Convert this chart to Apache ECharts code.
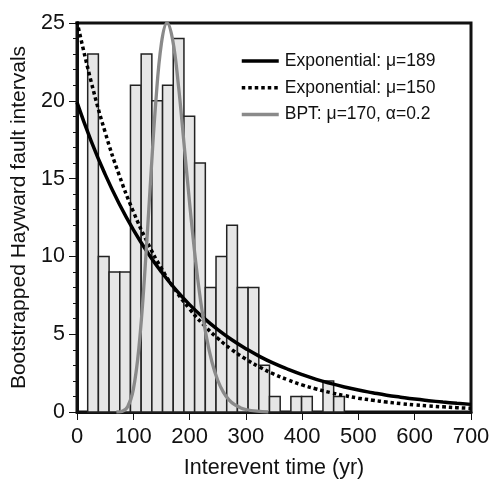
<!DOCTYPE html>
<html>
<head>
<meta charset="utf-8">
<title>Bootstrapped Hayward fault intervals</title>
<script src="https://cdn.jsdelivr.net/npm/echarts@6/dist/echarts.min.js"></script>
<style>
  html, body { margin: 0; padding: 0; background: #fff; }
  #chart { width: 493px; height: 484px; }
</style>
</head>
<body>
<div id="chart"></div>
<script>
// histogram: bins of 19 yr, left edges
var binWidth = 19;
var binStarts = [19, 38, 57, 76, 95, 114, 133, 152, 171, 190, 209, 228,
                 247, 266, 285, 304, 323, 342, 361, 380, 399, 418, 437, 456];
var binCounts = [23, 10, 9, 9, 21, 23, 20, 21, 24, 19, 16, 8,
                 10, 12, 8, 8, 3, 1, 0, 1, 1, 0, 2, 1];

// curves
var expX = [0, 25, 50, 75, 100, 125, 150, 175, 200, 225, 250, 275, 300, 325, 350,
            375, 400, 425, 450, 475, 500, 525, 550, 575, 600, 625, 650, 675, 700];
var exp189 = [19.9, 17.43, 15.27, 13.38, 11.72, 10.27, 9.0, 7.88, 6.9, 6.05, 5.3, 4.64, 4.07, 3.56, 3.12,
              2.74, 2.4, 2.1, 1.84, 1.61, 1.41, 1.24, 1.08, 0.95, 0.83, 0.73, 0.64, 0.56, 0.49];
var exp150 = [25.1, 21.25, 17.98, 15.22, 12.89, 10.91, 9.23, 7.82, 6.62, 5.6, 4.74, 4.01, 3.4, 2.88, 2.43,
              2.06, 1.74, 1.48, 1.25, 1.06, 0.89, 0.76, 0.64, 0.54, 0.46, 0.39, 0.33, 0.28, 0.235];
var bptX = [70, 80, 90, 100, 110, 120, 130, 140, 150, 160, 170, 180, 190, 200,
            210, 220, 230, 240, 250, 260, 270, 280, 290, 300, 320, 340];
var bpt = [0, 0.04, 0.33, 1.44, 4.14, 8.71, 14.46, 19.93, 23.7, 25.0, 23.9, 21.06, 17.3, 13.45,
           9.94, 7.04, 4.81, 3.18, 2.04, 1.28, 0.78, 0.47, 0.28, 0.16, 0.05, 0];

var xTicks = [0, 700, 100];
var yTicks = [0, 25, 5];

function pairs(xs, ys) {
    return xs.map(function (x, i) { return [x, ys[i]]; });
}

var font = '"Liberation Sans", Arial, Helvetica, sans-serif';
var myChart = echarts.init(document.getElementById('chart'));
var option = {
    animation: false,
    grid: {
        left: 77, right: 22, top: 23, bottom: 69,
        show: true, borderColor: '#111', borderWidth: 3
    },
    legend: {
        left: 240, top: 52,
        padding: 0,
        orient: 'vertical',
        itemWidth: 37, itemHeight: 14, itemGap: 8.7,
        itemStyle: { opacity: 0 },
        lineStyle: { width: 3.5 },
        textStyle: { fontFamily: font, fontSize: 17.5, color: '#111', lineHeight: 18, padding: [0, 0, 0, 1] },
        data: ['Exponential: μ=189', 'Exponential: μ=150', 'BPT: μ=170, α=0.2']
    },
    xAxis: {
        type: 'value',
        min: xTicks[0], max: xTicks[1], interval: xTicks[2],
        name: 'Interevent time (yr)',
        nameLocation: 'middle', nameGap: 45,
        nameTextStyle: { fontFamily: font, fontSize: 21.5, color: '#111' },
        axisLine: { lineStyle: { color: '#111', width: 3 } },
        axisTick: { show: true, length: 8, lineStyle: { color: '#111', width: 1 } },
        axisLabel: { fontFamily: font, fontSize: 22, color: '#111', margin: 14 },
        splitLine: { show: false }
    },
    yAxis: {
        type: 'value',
        min: yTicks[0], max: yTicks[1], interval: yTicks[2],
        name: 'Bootstrapped Hayward fault intervals',
        nameLocation: 'middle', nameGap: 45,
        nameTextStyle: { fontFamily: font, fontSize: 21, color: '#111' },
        axisLine: { lineStyle: { color: '#111', width: 3 } },
        axisTick: { show: true, length: 8, lineStyle: { color: '#111', width: 1 } },
        minorTick: { show: true, splitNumber: 5, length: 4, lineStyle: { color: '#111', width: 1 } },
        axisLabel: { fontFamily: font, fontSize: 21.5, color: '#111', margin: 12 },
        splitLine: { show: false }
    },
    series: [
        {
            name: 'hist',
            type: 'custom',
            renderItem: function (params, api) {
                var p0 = api.coord([api.value(0), api.value(2)]);
                var p1 = api.coord([api.value(1), 0]);
                return {
                    type: 'rect',
                    shape: { x: p0[0], y: p0[1], width: p1[0] - p0[0], height: p1[1] - p0[1] },
                    style: { fill: '#e6e6e6', stroke: '#222', lineWidth: 1.5 }
                };
            },
            data: binStarts.map(function (s, i) { return [s, s + binWidth, binCounts[i]]; }),
            z: 1
        },
        {
            name: 'Exponential: μ=189',
            type: 'line',
            smooth: true,
            symbol: 'none',
            lineStyle: { color: '#000', width: 3.5 },
            itemStyle: { color: '#000' },
            data: pairs(expX, exp189),
            z: 3
        },
        {
            name: 'Exponential: μ=150',
            type: 'line',
            smooth: true,
            symbol: 'none',
            lineStyle: { color: '#000', width: 3.5, type: [3.5, 3], cap: 'butt' },
            itemStyle: { color: '#000' },
            data: pairs(expX, exp150),
            z: 3
        },
        {
            name: 'BPT: μ=170, α=0.2',
            type: 'line',
            smooth: 0.4,
            symbol: 'none',
            lineStyle: { color: '#8a8a8a', width: 3.3 },
            itemStyle: { color: '#8a8a8a' },
            data: pairs(bptX, bpt),
            z: 4
        }
    ]
};
myChart.setOption(option);
</script>
</body>
</html>
